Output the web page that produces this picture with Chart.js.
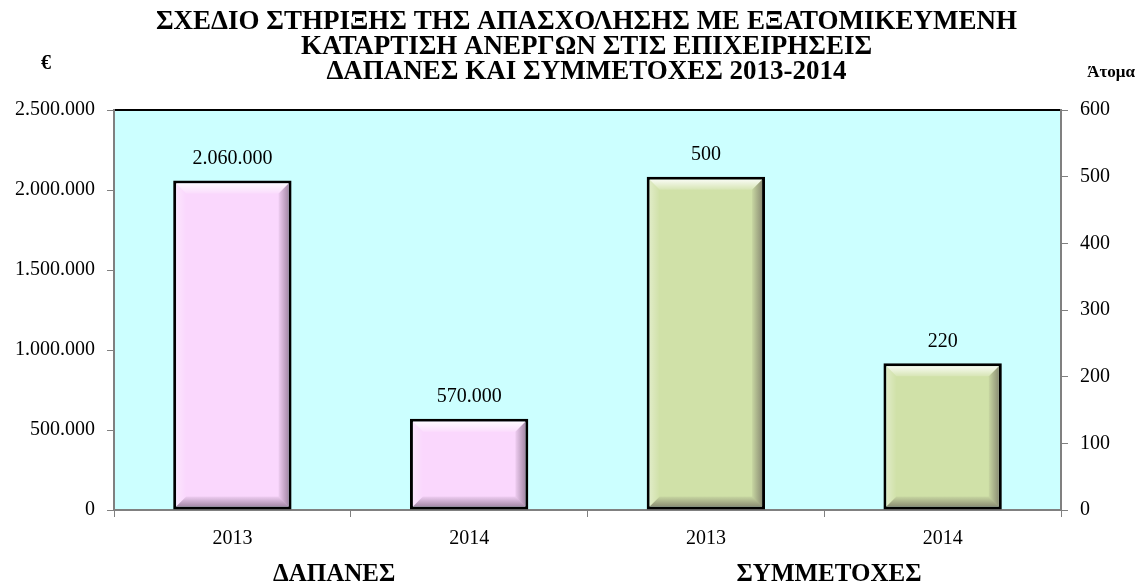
<!DOCTYPE html>
<html>
<head>
<meta charset="utf-8">
<script src="https://cdn.jsdelivr.net/npm/chart.js@4/dist/chart.umd.min.js"></script>
<style>
  html,body{margin:0;padding:0;background:#fff;}
  #wrap{width:1139px;height:585px;}
</style>
</head>
<body>
<div id="wrap"><canvas id="c" width="1139" height="585"></canvas></div>
<script>
// ---- data ----
const categories = ['2013', '2014', '2013', '2014'];
const expenses = [2060000, 570000, null, null];     // € (left axis)
const participants = [null, null, 500, 220];        // persons (right axis)
const groupLabels = ['ΔΑΠΑΝΕΣ', 'ΣΥΜΜΕΤΟΧΕΣ'];
const titleLines = [
  'ΣΧΕΔΙΟ ΣΤΗΡΙΞΗΣ ΤΗΣ ΑΠΑΣΧΟΛΗΣΗΣ ΜΕ ΕΞΑΤΟΜΙΚΕΥΜΕΝΗ',
  'ΚΑΤΑΡΤΙΣΗ ΑΝΕΡΓΩΝ ΣΤΙΣ ΕΠΙΧΕΙΡΗΣΕΙΣ',
  'ΔΑΠΑΝΕΣ ΚΑΙ ΣΥΜΜΕΤΟΧΕΣ 2013-2014'
];
const leftUnit = '€';
const rightUnit = 'Άτομα';

const SERIF = '"Liberation Serif", "Times New Roman", serif';
function fmt(v){ return String(v).replace(/\B(?=(\d{3})+(?!\d))/g, '.'); }

const bgPlugin = {
  id: 'bg',
  beforeDraw(chart){
    const {ctx, chartArea:a} = chart;
    ctx.save();
    ctx.fillStyle = '#CCFFFF';
    ctx.fillRect(a.left, a.top, a.right - a.left, a.bottom - a.top);
    ctx.strokeStyle = '#000';
    ctx.lineWidth = 2;
    ctx.beginPath();
    ctx.moveTo(a.left, a.top);
    ctx.lineTo(a.right, a.top);
    ctx.stroke();
    ctx.restore();
  }
};

const bevelPlugin = {
  id: 'bevel',
  afterDatasetsDraw(chart){
    const ctx = chart.ctx;
    chart.data.datasets.forEach((ds, di) => {
      const meta = chart.getDatasetMeta(di);
      meta.data.forEach((bar, i) => {
        if (ds.data[i] == null) return;
        const p = bar.getProps(['x','y','base','width'], true);
        const bw = ds.borderWidth;
        const L = p.x - p.width/2 + bw, R = p.x + p.width/2 - bw;
        const T = p.y + bw, B = p.base - bw;
        const s = 10;
        ctx.save();
        let g;
        g = ctx.createLinearGradient(0, T, 0, T + s);
        g.addColorStop(0, 'rgba(255,255,255,0.85)'); g.addColorStop(1, 'rgba(255,255,255,0.15)');
        ctx.fillStyle = g;
        ctx.beginPath(); ctx.moveTo(L,T); ctx.lineTo(R,T); ctx.lineTo(R-s,T+s); ctx.lineTo(L+s,T+s); ctx.closePath(); ctx.fill();
        g = ctx.createLinearGradient(L, 0, L + s, 0);
        g.addColorStop(0, 'rgba(255,255,255,0.35)'); g.addColorStop(1, 'rgba(255,255,255,0)');
        ctx.fillStyle = g;
        ctx.beginPath(); ctx.moveTo(L,T); ctx.lineTo(L+s,T+s); ctx.lineTo(L+s,B-s); ctx.lineTo(L,B); ctx.closePath(); ctx.fill();
        g = ctx.createLinearGradient(R - s, 0, R, 0);
        g.addColorStop(0, 'rgba(40,20,40,0.05)'); g.addColorStop(1, 'rgba(40,20,40,0.4)');
        ctx.fillStyle = g;
        ctx.beginPath(); ctx.moveTo(R,T); ctx.lineTo(R,B); ctx.lineTo(R-s,B-s); ctx.lineTo(R-s,T+s); ctx.closePath(); ctx.fill();
        g = ctx.createLinearGradient(0, B - s, 0, B);
        g.addColorStop(0, 'rgba(40,20,40,0.05)'); g.addColorStop(1, 'rgba(40,20,40,0.4)');
        ctx.fillStyle = g;
        ctx.beginPath(); ctx.moveTo(L,B); ctx.lineTo(L+s,B-s); ctx.lineTo(R-s,B-s); ctx.lineTo(R,B); ctx.closePath(); ctx.fill();
        ctx.restore();
      });
    });
  }
};

const labelPlugin = {
  id: 'labels',
  afterDraw(chart, args, opts){
    const {ctx, chartArea:a} = chart;
    ctx.save();
    ctx.fillStyle = '#000';
    ctx.textAlign = 'center';
    ctx.textBaseline = 'middle';
    // title
    ctx.font = 'bold 27px ' + SERIF;
    const cx = (a.left + a.right) / 2 - 1;
    titleLines.forEach((t, li) => ctx.fillText(t, cx, 22 + li * 25));
    // value labels
    ctx.font = '20px ' + SERIF;
    chart.data.datasets.forEach((ds, di) => {
      const meta = chart.getDatasetMeta(di);
      meta.data.forEach((bar, i) => {
        if (ds.data[i] == null) return;
        ctx.fillText(fmt(ds.data[i]), bar.x, bar.y - 22);
      });
    });
    // group labels under the axis
    const xs = chart.scales.x;
    ctx.font = 'bold 25px ' + SERIF;
    groupLabels.forEach((t, gi) => {
      ctx.fillText(t, xs.getPixelForValue(opts.groupPos[gi]), 575);
    });
    // unit labels
    ctx.font = 'bold 20px ' + SERIF;
    ctx.fillText(leftUnit, a.left - 68, a.top - 46);
    ctx.font = 'bold 17px ' + SERIF;
    ctx.fillText(rightUnit, a.right + 50, a.top - 37);
    ctx.restore();
  }
};

const gridCommon = {
  drawOnChartArea: false,
  drawTicks: true,
  tickLength: 7,
  color: '#808080',
  lineWidth: 1
};

new Chart(document.getElementById('c'), {
  type: 'bar',
  data: {
    labels: categories,
    datasets: [
      {
        label: 'ΔΑΠΑΝΕΣ',
        data: expenses,
        yAxisID: 'y',
        backgroundColor: '#FAD7FD',
        borderColor: '#000',
        borderWidth: 3,
        borderSkipped: false,
        skipNull: true,
        barPercentage: 0.5,
        categoryPercentage: 1.0
      },
      {
        label: 'ΣΥΜΜΕΤΟΧΕΣ',
        data: participants,
        yAxisID: 'y2',
        backgroundColor: '#D0E1A8',
        borderColor: '#000',
        borderWidth: 3,
        borderSkipped: false,
        skipNull: true,
        barPercentage: 0.5,
        categoryPercentage: 1.0
      }
    ]
  },
  options: {
    responsive: false,
    animation: false,
    devicePixelRatio: 1,
    layout: { padding: { left: 0, right: 0, top: 110, bottom: 32 } },
    plugins: {
      legend: { display: false },
      tooltip: { enabled: false },
      title: { display: false },
      labels: { groupPos: [0.43, 2.52] }
    },
    scales: {
      x: {
        grid: Object.assign({}, gridCommon, { offset: true }),
        border: { color: '#808080', width: 2 },
        ticks: { color: '#000', font: { family: SERIF, size: 20 }, padding: 10 },
        afterFit(s){ s.height = 43; }
      },
      y: {
        position: 'left',
        min: 0, max: 2500000,
        ticks: { stepSize: 500000, color: '#000', font: { family: SERIF, size: 20 }, padding: 12,
                 callback: v => fmt(v) },
        grid: gridCommon,
        border: { color: '#808080', width: 2 },
        afterFit(s){ s.width = 114; }
      },
      y2: {
        position: 'right',
        min: 0, max: 600,
        ticks: { stepSize: 100, color: '#000', font: { family: SERIF, size: 20 }, padding: 12 },
        grid: gridCommon,
        border: { color: '#808080', width: 2 },
        afterFit(s){ s.width = 78; }
      }
    }
  },
  plugins: [bgPlugin, bevelPlugin, labelPlugin]
});
</script>
</body>
</html>
